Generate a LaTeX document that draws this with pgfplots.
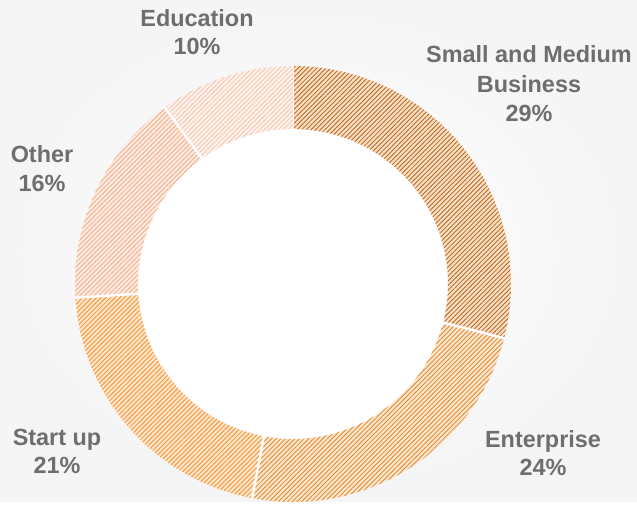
\documentclass[border=0pt]{standalone}
\usepackage{pgfplots}
\pgfplotsset{compat=1.18}
\usepackage{pgfplotstable}
\usetikzlibrary{patterns.meta}
\usepackage{fontspec}
\setmainfont{Liberation Sans}

\definecolor{txt}{HTML}{6E6E6E}
\definecolor{smbL}{HTML}{BC6820}\definecolor{smbB}{HTML}{F7DEC4}
\definecolor{entL}{HTML}{E2882E}\definecolor{entB}{HTML}{FDE6CE}
\definecolor{stuL}{HTML}{F39333}\definecolor{stuB}{HTML}{FEE4C8}
\definecolor{othL}{HTML}{F1B08E}\definecolor{othB}{HTML}{FDE9DE}
\definecolor{eduL}{HTML}{F4C7B2}\definecolor{eduB}{HTML}{FEF1EA}

\pgfplotstableread{
name value line base
SMB        29 smbL smbB
Enterprise 24 entL entB
Startup    21 stuL stuB
Other      16 othL othB
Education  10 eduL eduB
}\piedata

% start / end angles (clockwise from 12 o'clock)
\pgfplotstablegetrowsof{\piedata}\edef\nrows{\pgfplotsretval}
\newcount\ri
\def\cum{0}
\ri=0
\loop
  \pgfplotstablegetelem{\the\ri}{value}\of\piedata
  \pgfmathsetmacro\sa{90-3.6*\cum}
  \pgfmathsetmacro\cum{\cum+\pgfplotsretval}
  \pgfmathsetmacro\ea{90-3.6*\cum}
  \expandafter\xdef\csname sa\the\ri\endcsname{\sa}
  \expandafter\xdef\csname ea\the\ri\endcsname{\ea}
  \advance\ri by 1
\ifnum\ri<\nrows\repeat

\newcommand\drawslice[4]{%
  \path[shift={(axis cs:0,0)}, preaction={fill=#4},
        pattern={Lines[angle=45,distance=3.3pt,line width=0.85pt]}, pattern color=#3]
    (#1:218bp) arc[start angle=#1, end angle=#2, radius=218bp]
    -- (#2:155bp) arc[start angle=#2, end angle=#1, radius=155bp] -- cycle;
  \draw[shift={(axis cs:0,0)}, white, line width=2.4bp] (#1:154bp) -- (#1:219bp);
}

\begin{document}
\begin{tikzpicture}
\begin{axis}[hide axis, x=1bp, y=1bp, xmin=-293, xmax=344, ymin=-217, ymax=284,
  clip=false, scale only axis]
\shade[inner color=white, outer color=black!4] (axis cs:-293,-217) rectangle (axis cs:344,284);
\fill[white] (axis cs:0,0) circle[radius=156bp];
\pgfplotsinvokeforeach{0,...,4}{
  \pgfplotstablegetelem{#1}{line}\of\piedata \let\lc\pgfplotsretval
  \pgfplotstablegetelem{#1}{base}\of\piedata \let\bc\pgfplotsretval
  \edef\x{\noexpand\drawslice{\csname sa#1\endcsname}{\csname ea#1\endcsname}{\lc}{\bc}}\x
}
\tikzset{lab/.style={anchor=base, text=txt, inner sep=0pt,
  font=\fontsize{23.5}{28}\selectfont\bfseries}}
\node[lab] at (axis cs:-96,257) {Education};
\node[lab] at (axis cs:-96,229) {10\%};
\node[lab] at (axis cs:236,221) {Small and Medium};
\node[lab] at (axis cs:236,191) {Business};
\node[lab] at (axis cs:236,162) {29\%};
\node[lab] at (axis cs:-251,121) {Other};
\node[lab] at (axis cs:-251,92) {16\%};
\node[lab] at (axis cs:-236,-161) {Start up};
\node[lab] at (axis cs:-236,-189) {21\%};
\node[lab] at (axis cs:250,-163) {Enterprise};
\node[lab] at (axis cs:250,-191) {24\%};
\end{axis}
\end{tikzpicture}
\end{document}
